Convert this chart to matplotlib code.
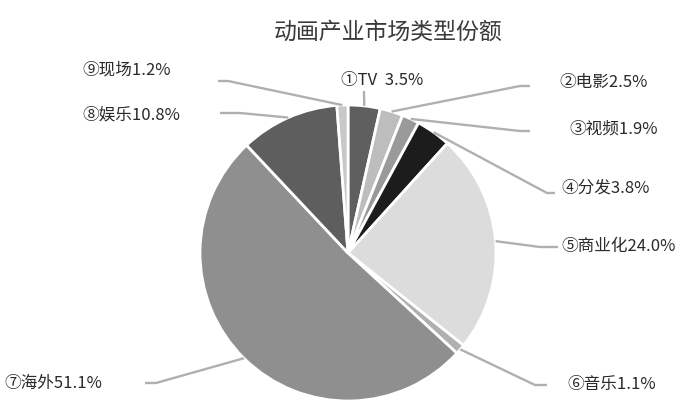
import matplotlib
matplotlib.use("Agg")
import matplotlib.pyplot as plt
import numpy as np

plt.rcParams['font.family'] = ['Noto Sans CJK SC', 'DejaVu Sans']

# ---- data ----
title = "动画产业市场类型份额"
labels = ["①TV  3.5%", "②电影2.5%", "③视频1.9%", "④分发3.8%", "⑤商业化24.0%",
          "⑥音乐1.1%", "⑦海外51.1%", "⑧娱乐10.8%", "⑨现场1.2%"]
values = [3.5, 2.5, 1.9, 3.8, 24.0, 1.1, 51.1, 10.8, 1.2]
colors = ["#5f5f5f", "#bdbdbd", "#9a9a9a", "#1c1c1c", "#dcdcdc",
          "#b0b0b0", "#8f8f8f", "#5e5e5e", "#c8c8c8"]

# ---- layout (pixel positions in a 700x405 canvas) ----
W, H = 700, 405
CX, CY, R = 348, 253, 148
text_pos = [(341, 80), (559, 83), (569, 129), (561, 188), (561, 247),
            (567, 385), (4, 383), (82, 115), (82, 70)]
elbows = [(364, 91), (520, 86), (520, 131), (547, 193), (540, 247),
          (535, 385), (156, 383), (240, 113), (228, 81)]
ends = [(364, 91), (530, 86), (530, 131), (555, 193), (558, 247),
        (547, 385), (145, 383), (220, 113), (218, 81)]


def P(px, py):
    return ((px - CX) / R, (CY - py) / R)


fig = plt.figure(figsize=(W / 100, H / 100), dpi=100)
ax = fig.add_axes([0, 0, 1, 1])

wedges, _ = ax.pie(values, colors=colors, startangle=90, counterclock=False,
                   radius=1.0, center=(0, 0),
                   wedgeprops=dict(edgecolor='white', linewidth=2.0))
ax.set_xlim(-CX / R, (W - CX) / R)
ax.set_ylim(-(H - CY) / R, CY / R)
ax.set_aspect('auto')
ax.axis('off')

for w, lab, tp, el, en in zip(wedges, labels, text_pos, elbows, ends):
    mid = np.deg2rad((w.theta1 + w.theta2) / 2)
    a_x = np.cos(mid)
    a_y = np.sin(mid)
    ex, ey = P(*el)
    nx, ny = P(*en)
    ax.plot([a_x, ex, nx], [a_y, ey, ny], color="#b0b0b0", lw=1.7,
            solid_capstyle='butt', zorder=3)
    tx, ty = P(*tp)
    ax.text(tx, ty, lab, ha='left', va='center', fontsize=12, color="#2a2a2a")

tx, ty = P(388, 32)
ax.text(tx, ty, title, ha='center', va='center', fontsize=16.5, color="#3a3a3a")

fig.savefig("out.png", dpi=100)
